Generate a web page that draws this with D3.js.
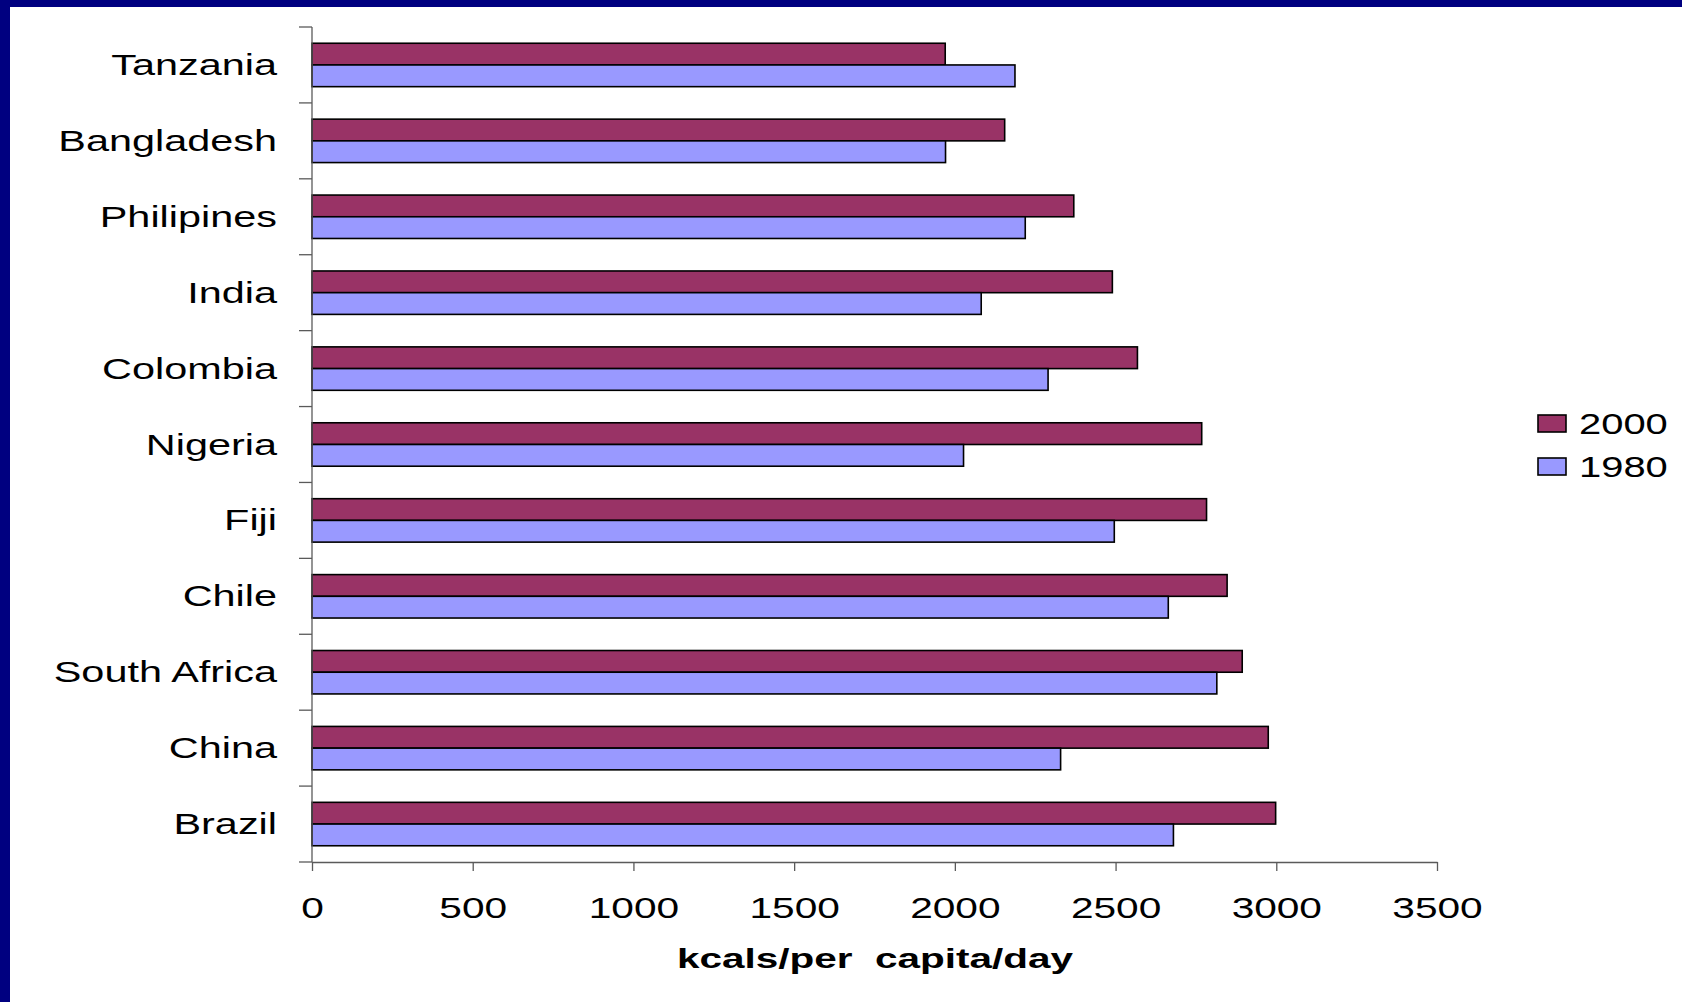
<!DOCTYPE html>
<html>
<head>
<meta charset="utf-8">
<script src="https://cdn.jsdelivr.net/npm/d3@7"></script>
<style>
html, body { margin: 0; padding: 0; background: #fff; }
svg { display: block; }
</style>
</head>
<body>
<script>
const categories = ["Tanzania", "Bangladesh", "Philipines", "India", "Colombia", "Nigeria", "Fiji", "Chile", "South Africa", "China", "Brazil"];
const seriesNames = ["2000", "1980"];
const values2000 = [1970, 2155, 2370, 2490, 2568, 2768, 2783, 2847, 2894, 2975, 2998];
const values1980 = [2187, 1971, 2219, 2082, 2290, 2027, 2496, 2664, 2815, 2329, 2680];
const xTicks = [0, 500, 1000, 1500, 2000, 2500, 3000, 3500];
const colors = ["#993366", "#9999FF"];
const xTitle = "kcals/per capita/day";

const W = 1682, H = 1002;
const svg = d3.select("body").append("svg").attr("width", W).attr("height", H);

// background frame
svg.append("rect").attr("x", 0).attr("y", 0).attr("width", W).attr("height", H).attr("fill", "#000080");
svg.append("rect").attr("x", 10).attr("y", 7).attr("width", W - 10).attr("height", H - 7).attr("fill", "#ffffff");

const font = "'Liberation Sans', Arial, sans-serif";
const pLeft = 312, pRight = 1437, pTop = 27, pBottom = 862;
const stretch = 1.38;

function widen(sel, factor) {
  sel.each(function () {
    const w = this.getComputedTextLength();
    d3.select(this).attr("textLength", w * factor).attr("lengthAdjust", "spacingAndGlyphs");
  });
}

const x = d3.scaleLinear().domain([0, 3500]).range([pLeft, pRight]);
const y = d3.scaleBand().domain(categories).range([pTop, pBottom]).paddingInner(0.428).paddingOuter(0.214);
const sub = d3.scaleBand().domain(seriesNames).range([0, y.bandwidth()]);

const data = categories.map((c, i) => ({ cat: c, vals: [values2000[i], values1980[i]] }));

// bars
const g = svg.append("g");
data.forEach(d => {
  seriesNames.forEach((s, j) => {
    g.append("rect")
      .attr("x", x(0))
      .attr("y", y(d.cat) + sub(s))
      .attr("width", x(d.vals[j]) - x(0))
      .attr("height", sub.bandwidth())
      .attr("fill", colors[j])
      .attr("stroke", "#000")
      .attr("stroke-width", 1.6);
  });
});

// y axis line and ticks at band boundaries
const axisColor = "#5a5a5a";
svg.append("line").attr("x1", pLeft).attr("x2", pLeft).attr("y1", pTop).attr("y2", pBottom)
  .attr("stroke", axisColor).attr("stroke-width", 1.3);
const step = y.step();
d3.range(categories.length + 1).forEach(i => {
  const yy = pTop + i * step;
  svg.append("line").attr("x1", pLeft - 13).attr("x2", pLeft).attr("y1", yy).attr("y2", yy)
    .attr("stroke", axisColor).attr("stroke-width", 1.3);
});
// category labels
const catLabels = svg.append("g").selectAll("text").data(categories).join("text")
  .attr("x", 277)
  .attr("y", c => y(c) + y.bandwidth() / 2 + 10)
  .attr("text-anchor", "end")
  .attr("font-family", font)
  .attr("font-size", 30)
  .attr("fill", "#000")
  .text(c => c);
widen(catLabels, stretch);

// x axis
const xAxis = d3.axisBottom(x).tickValues(xTicks).tickFormat(d3.format("d"))
  .tickSize(9).tickPadding(12).tickSizeOuter(0);
const xg = svg.append("g").attr("transform", `translate(0,${pBottom})`).call(xAxis);
xg.select(".domain").attr("stroke", axisColor).attr("stroke-width", 1.3);
xg.selectAll(".tick line").attr("stroke", axisColor).attr("stroke-width", 1.3);
const tickTexts = xg.selectAll(".tick text").attr("font-family", font).attr("font-size", 29).attr("fill", "#000")
  .attr("dy", null).attr("y", 56);
widen(tickTexts, 1.4);

// x title
svg.append("text").attr("x", 875).attr("y", 968).attr("text-anchor", "middle")
  .attr("font-family", font).attr("font-size", 27).attr("font-weight", "bold")
  .style("white-space", "pre")
  .attr("textLength", 396).attr("lengthAdjust", "spacingAndGlyphs")
  .text(xTitle.replace("/per ", "/per  "));

// legend
seriesNames.forEach((s, j) => {
  const ly = 415 + j * 43;
  svg.append("rect").attr("x", 1538).attr("y", ly).attr("width", 28).attr("height", 17)
    .attr("fill", colors[j]).attr("stroke", "#000").attr("stroke-width", 1.6);
  const t = svg.append("text").attr("x", 1579).attr("y", ly + 19).attr("font-family", font)
    .attr("font-size", 30).attr("fill", "#000").text(s);
  widen(t, 1.33);
});
</script>
</body>
</html>
